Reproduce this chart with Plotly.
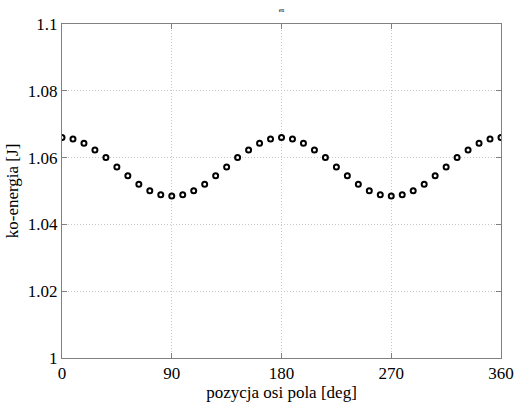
import plotly.graph_objects as go

# rotor position [deg], sampled every 9 degrees
pozycja = [0, 9, 18, 27, 36, 45, 54, 63, 72, 81, 90, 99, 108, 117, 126, 135, 144, 153, 162, 171,
           180, 189, 198, 207, 216, 225, 234, 243, 252, 261, 270, 279, 288, 297, 306, 315, 324,
           333, 342, 351, 360]

# co-energy [J]
ko_energia = [1.0660, 1.0656, 1.0643, 1.0623, 1.0600, 1.0572, 1.0546, 1.0520, 1.0501, 1.0489,
              1.0485, 1.0489, 1.0501, 1.0520, 1.0546, 1.0572, 1.0600, 1.0623, 1.0643, 1.0656,
              1.0660, 1.0656, 1.0643, 1.0623, 1.0600, 1.0572, 1.0546, 1.0520, 1.0501, 1.0489,
              1.0485, 1.0489, 1.0501, 1.0520, 1.0546, 1.0572, 1.0600, 1.0623, 1.0643, 1.0656,
              1.0660]

x_ticks = [0, 90, 180, 270, 360]
y_ticks = [1.0, 1.02, 1.04, 1.06, 1.08, 1.1]
y_labels = ["1", "1.02", "1.04", "1.06", "1.08", "1.1"]

serif = "Liberation Serif"

fig = go.Figure(
    go.Scatter(
        x=pozycja,
        y=ko_energia,
        mode="markers",
        marker=dict(symbol="circle-open", size=5, color="black", line=dict(width=2, color="black")),
        showlegend=False,
    )
)

axis_common = dict(
    showline=True,
    linecolor="#808080",
    linewidth=1,
    mirror="ticks",
    ticks="inside",
    ticklen=5,
    tickcolor="#808080",
    showgrid=True,
    gridcolor="#c8c8c8",
    griddash="1px,2px",
    gridwidth=1,
    zeroline=False,
    tickfont=dict(family=serif, size=17, color="black"),
)

fig.update_xaxes(
    range=[0, 360],
    tickvals=x_ticks,
    ticktext=[str(v) for v in x_ticks],
    title=dict(text="pozycja osi pola [deg]", font=dict(family=serif, size=17, color="black"), standoff=0),
    **axis_common,
)
fig.update_yaxes(
    range=[1.0, 1.1],
    tickvals=y_ticks,
    ticktext=y_labels,
    title=dict(text="ko-energia [J]", font=dict(family=serif, size=17, color="black"), standoff=4),
    **axis_common,
)

fig.update_layout(
    width=526,
    height=407,
    margin=dict(l=62, r=17, t=24, b=40),
    paper_bgcolor="white",
    plot_bgcolor="white",
    font=dict(family=serif, color="black"),
    title=dict(text="en", font=dict(family=serif, size=6, color="black"),
               x=0.5, xref="paper", xanchor="center", y=0.975, yanchor="middle"),
)

fig.write_html("out.html")
